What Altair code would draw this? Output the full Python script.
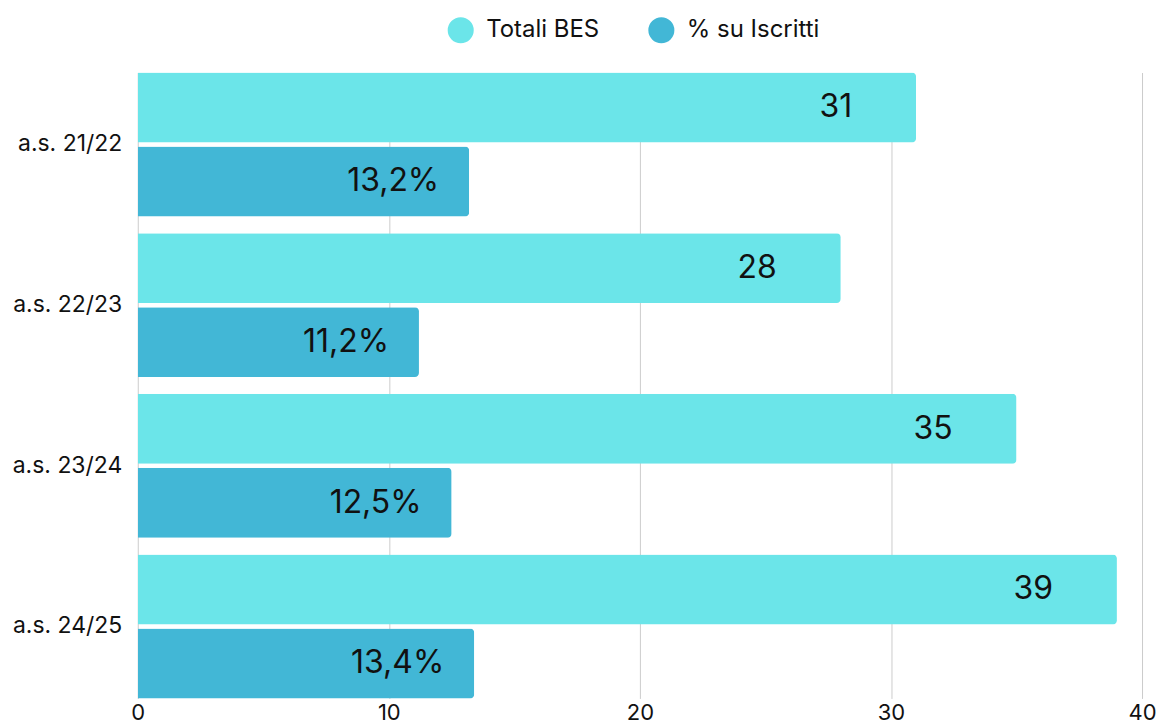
import altair as alt
import pandas as pd

anni = ["a.s. 21/22", "a.s. 22/23", "a.s. 23/24", "a.s. 24/25"]
serie = ["Totali BES", "% su Iscritti"]
totali = [31, 28, 35, 39]
percentuali = [13.2, 11.2, 12.5, 13.4]
colori = ["#6BE5E9", "#42B7D6"]
ticks_x = [0, 10, 20, 30, 40]

rows = []
for a, t, p in zip(anni, totali, percentuali):
    rows.append({"anno": a, "serie": serie[0], "valore": t, "etichetta": f"{t}"})
    rows.append({"anno": a, "serie": serie[1], "valore": p,
                 "etichetta": f"{p:.1f}".replace(".", ",") + "%"})
df = pd.DataFrame(rows)

FONT = "Inter"

y_enc = alt.Y("anno:N", sort=anni, title=None,
              scale=alt.Scale(paddingInner=0.104, paddingOuter=0),
              axis=alt.Axis(labelFontSize=23, labelColor="#111111", labelFont=FONT,
                            ticks=False, domain=False, labelPadding=16))
yoff = alt.YOffset("serie:N", sort=serie,
                   scale=alt.Scale(paddingInner=0.055, paddingOuter=0))
x_enc = alt.X("valore:Q", title=None,
              scale=alt.Scale(domain=[0, 40], nice=False),
              axis=alt.Axis(values=ticks_x, labelFontSize=22, labelColor="#111111",
                            labelFont=FONT, ticks=False, domain=False, labelPadding=4,
                            labelFlush=False, gridColor="#cccccc", gridWidth=1))

base = alt.Chart(df)

bars = base.mark_bar(cornerRadiusEnd=4).encode(
    y=y_enc, yOffset=yoff, x=x_enc,
    color=alt.Color("serie:N", sort=serie, title=None,
                    scale=alt.Scale(domain=serie, range=colori),
                    legend=alt.Legend(orient="none", legendX=310, legendY=-56,
                                      direction="horizontal", symbolType="circle",
                                      symbolSize=680, symbolStrokeWidth=0,
                                      labelFontSize=24, labelFont=FONT,
                                      labelColor="#111111", columnPadding=48,
                                      labelOffset=12)),
)

txt_tot = base.transform_filter(alt.datum.serie == serie[0]).mark_text(
    align="right", baseline="middle", dx=-64, fontSize=32, font=FONT, color="#111111"
).encode(y=alt.Y("anno:N", sort=anni), yOffset=alt.YOffset("serie:N", sort=serie),
         x="valore:Q", text="etichetta:N")

txt_pct = base.transform_filter(alt.datum.serie == serie[1]).mark_text(
    align="right", baseline="middle", dx=-30, fontSize=32, font=FONT, color="#111111"
).encode(y=alt.Y("anno:N", sort=anni), yOffset=alt.YOffset("serie:N", sort=serie),
         x="valore:Q", text="etichetta:N")

chart = alt.layer(bars, txt_tot, txt_pct).properties(
    width=1006, height=627,
    autosize=alt.AutoSizeParams(type="none"),
    padding={"left": 130, "top": 64, "right": 14, "bottom": 29},
).configure_view(stroke=None)

chart.save("out.html", embed_options={"renderer": "svg", "actions": False})
